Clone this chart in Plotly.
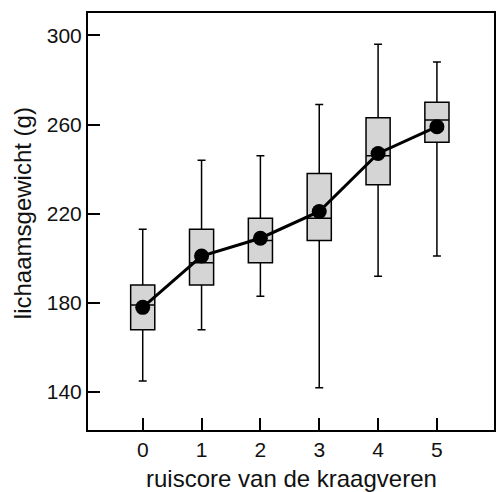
import plotly.graph_objects as go

scores = [0, 1, 2, 3, 4, 5]
lower = [145, 168, 183, 142, 192, 201]
q1 = [168, 188, 198, 208, 233, 252]
median = [179, 198, 208, 218, 246, 262]
q3 = [188, 213, 218, 238, 263, 270]
upper = [213, 244, 246, 269, 296, 288]
mean = [178, 201, 209, 221, 247, 259]

y_ticks = [140, 180, 220, 260, 300]
x_title = "ruiscore van de kraagveren"
y_title = "lichaamsgewicht (g)"

FONT = "Liberation Sans, Arial, Helvetica, sans-serif"

fig = go.Figure()
fig.add_trace(go.Box(
    x=scores, q1=q1, median=median, q3=q3,
    lowerfence=lower, upperfence=upper,
    width=0.41, whiskerwidth=0.33,
    fillcolor="#d5d5d5",
    line=dict(color="black", width=1.5),
    boxpoints=False, showlegend=False,
))
fig.add_trace(go.Scatter(
    x=scores, y=mean, mode="lines+markers",
    line=dict(color="black", width=3),
    marker=dict(color="black", size=15),
    showlegend=False,
))

fig.update_layout(
    width=499, height=492,
    margin=dict(l=88, r=5, t=13, b=62, autoexpand=False),
    paper_bgcolor="white", plot_bgcolor="white",
    font=dict(family=FONT, color="#111", size=21),
)
fig.update_xaxes(
    range=[-0.93, 5.97], tickmode="array", tickvals=scores,
    ticks="inside", ticklen=12, tickwidth=1.5, tickcolor="black",
    showline=True, linecolor="black", linewidth=2, mirror=True,
    showgrid=False, zeroline=False, automargin=False,
    tickfont=dict(size=21),
)
fig.update_yaxes(
    range=[123, 310], tickmode="array", tickvals=y_ticks,
    ticks="inside", ticklen=12, tickwidth=1.5, tickcolor="black",
    showline=True, linecolor="black", linewidth=2, mirror=True,
    showgrid=False, zeroline=False, automargin=False,
    tickfont=dict(size=21),
)
fig.add_annotation(
    text=x_title, xref="paper", yref="paper", x=0.5, y=0,
    xanchor="center", yanchor="middle", yshift=-48, showarrow=False,
    font=dict(size=24),
)
fig.add_annotation(
    text=y_title, xref="paper", yref="paper", x=0, y=0.52,
    xanchor="center", yanchor="middle", xshift=-66, textangle=-90,
    showarrow=False, font=dict(size=24),
)

fig.write_html(
    "out.html",
    config={"displayModeBar": False},
    post_script="document.body.style.margin='0';document.body.style.overflow='hidden';",
)
